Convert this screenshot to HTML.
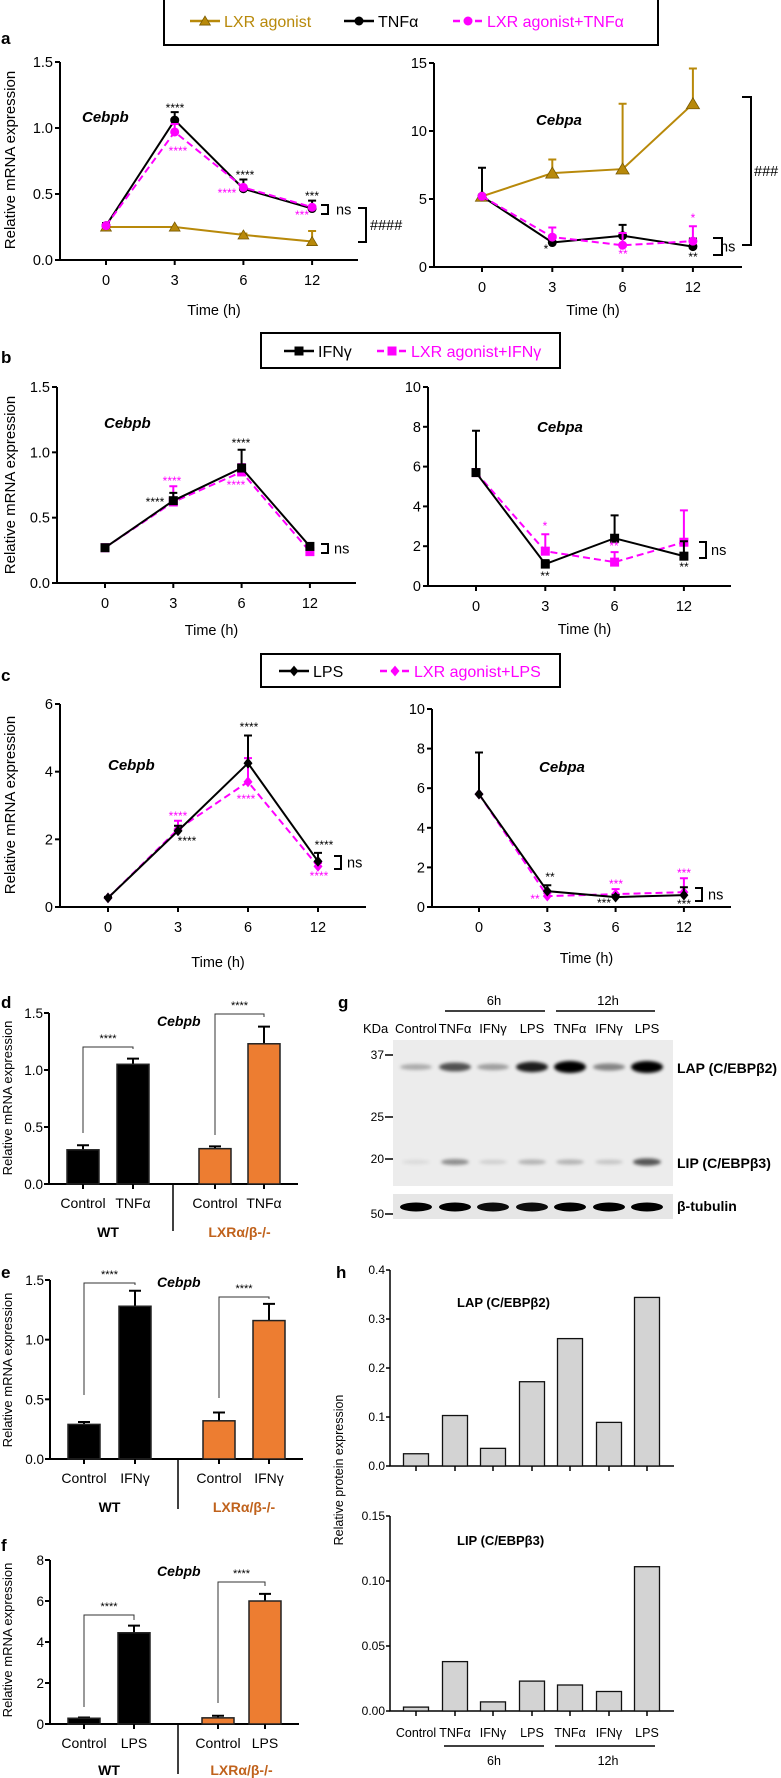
<!DOCTYPE html>
<html><head><meta charset="utf-8"><style>
html,body{margin:0;padding:0;background:#fff;}
svg{display:block;font-family:"Liberation Sans",Arial,sans-serif;}
</style></head><body>
<svg id="fig" width="781" height="1778" viewBox="0 0 781 1778" xmlns="http://www.w3.org/2000/svg">
<defs><filter id="blur" x="-30%" y="-100%" width="160%" height="300%"><feGaussianBlur stdDeviation="1.6"/></filter></defs>
</svg>
<script>
// ---------- DATA ----------
const timeLabels=['0','3','6','12'];
const aLeftLXR=[0.25,0.25,0.19,0.14];
const aLeftLXRErr=[0.25,0.25,0.20,0.22];
const aLeftTNF=[0.26,1.06,0.54,0.39];
const aLeftTNFErr=[0.28,1.12,0.61,0.45];
const aLeftCombo=[0.26,0.97,0.55,0.40];
const aLeftComboErr=[0.26,1.03,0.55,0.40];
const aRightLXR=[5.2,6.9,7.2,12.0];
const aRightLXRErr=[5.2,7.9,12.0,14.6];
const aRightTNF=[5.2,1.8,2.3,1.5];
const aRightTNFErr=[7.3,2.3,3.1,2.1];
const aRightCombo=[5.2,2.2,1.6,1.9];
const aRightComboErr=[5.2,2.9,2.5,3.0];
const bLeftIFN=[0.27,0.63,0.88,0.28];
const bLeftIFNErr=[0.29,0.69,1.02,0.30];
const bLeftCombo=[0.27,0.62,0.85,0.24];
const bLeftComboErr=[0.27,0.74,0.91,0.24];
const bRightIFN=[5.7,1.1,2.4,1.5];
const bRightIFNErr=[7.8,1.3,3.55,2.25];
const bRightCombo=[5.7,1.75,1.2,2.2];
const bRightComboErr=[5.7,2.6,1.7,3.8];
const cLeftLPS=[0.27,2.25,4.25,1.35];
const cLeftLPSErr=[0.30,2.4,5.07,1.6];
const cLeftCombo=[0.27,2.3,3.7,1.2];
const cLeftComboErr=[0.27,2.55,4.4,1.3];
const cRightLPS=[5.7,0.8,0.5,0.6];
const cRightLPSErr=[7.8,1.1,0.6,1.0];
const cRightCombo=[5.7,0.55,0.65,0.75];
const cRightComboErr=[5.7,0.7,0.9,1.45];
const dCats=['Control','TNFα','Control','TNFα'];
const dVals=[0.30,1.05,0.31,1.23];
const dErr=[0.34,1.10,0.33,1.38];
const eCats=['Control','IFNγ','Control','IFNγ'];
const eVals=[0.29,1.28,0.32,1.16];
const eErr=[0.31,1.41,0.39,1.30];
const fCats=['Control','LPS','Control','LPS'];
const fVals=[0.28,4.45,0.30,6.0];
const fErr=[0.32,4.8,0.40,6.35];
const hCats=['Control','TNFα','IFNγ','LPS','TNFα','IFNγ','LPS'];
const lapVals=[0.025,0.103,0.036,0.172,0.260,0.089,0.344];
const lipVals=[0.003,0.038,0.007,0.023,0.020,0.015,0.111];
const blotLAP=[0.25,0.6,0.3,0.8,1.0,0.4,1.0];
const blotLIP=[0.1,0.5,0.15,0.3,0.3,0.2,0.8];
const blotTub=[1,1,0.95,0.95,1,1,1];
const hLaneX=[416,455,493,532,570,609,647];

// ---------- HELPERS ----------
const NS='http://www.w3.org/2000/svg';
const svg=document.getElementById('fig');
function mk(tag,attrs,parent){const e=document.createElementNS(NS,tag);for(const k in attrs)e.setAttribute(k,attrs[k]);(parent||svg).appendChild(e);return e;}
function txt(x,y,s,attrs,parent){const t=mk('text',Object.assign({x:x,y:y},attrs||{}),parent);t.textContent=s;return t;}
const GOLD='#b8890a', MAG='#ff00ff', ORANGE='#ed7d31', BROWN='#c0621c';

function marker(g,type,x,y,color,s){
  let m;
  if(type==='circle') m=mk('circle',{cx:x,cy:y,r:s*0.5,fill:color},g);
  else if(type==='square') m=mk('rect',{x:x-s/2,y:y-s/2,width:s,height:s,fill:color},g);
  else if(type==='triangle') m=mk('path',{d:`M${x} ${y-s*0.55} L${x+s*0.6} ${y+s*0.45} L${x-s*0.6} ${y+s*0.45} Z`,fill:color,stroke:'#7a5a00','stroke-width':0.8},g);
  else m=mk('path',{d:`M${x} ${y-s*0.6} L${x+s*0.5} ${y} L${x} ${y+s*0.6} L${x-s*0.5} ${y} Z`,fill:color},g);
  
  
}

function lineChart(name,c,series,yTickLabels){
  const g=mk('g',{});
  
  
  const sy=v=>c.y0-v/c.ymax*(c.y0-c.ytop);
  const sx=i=>c.x0+i*c.step;
  const ax=mk('path',{d:`M${c.ax} ${c.ytop} V${c.y0} H${c.xend}`,fill:'none',stroke:'#000','stroke-width':2},g);
  
  
  c.yticks.forEach((v,k)=>{
    const tk=mk('line',{x1:c.ax-5,x2:c.ax,y1:sy(v),y2:sy(v),stroke:'#000','stroke-width':2},g);
    
    
    const tl=txt(c.ax-7,sy(v)+5,yTickLabels[k],{'font-size':14.5,'text-anchor':'end'},g);
    
    
  });
  timeLabels.forEach((s,i)=>{
    const tk=mk('line',{x1:sx(i),x2:sx(i),y1:c.y0,y2:c.y0+5,stroke:'#000','stroke-width':2},g);
    
    
    const tl=txt(sx(i),c.y0+25,s,{'font-size':14.5,'text-anchor':'middle'},g);
    
    
  });
  const xt=txt((c.ax+c.xend)/2+5,c.y0+c.titleDy,'Time (h)',{'font-size':14.5,'text-anchor':'middle'},g);
  
  
  const gt=txt(c.geneX,c.geneY,c.gene,{'font-size':15,'font-weight':'bold','font-style':'italic'},g);
  
  
  series.forEach(s=>{
    s.vals.forEach((v,i)=>{
      if(s.err[i]>v+0.0001){
        const eb=mk('path',{d:`M${sx(i)} ${sy(v)} V${sy(s.err[i])} M${sx(i)-4} ${sy(s.err[i])} H${sx(i)+4}`,stroke:s.color,'stroke-width':2,fill:'none'},g);
        
        
      }
    });
    const d=s.vals.map((v,i)=>(i?'L':'M')+sx(i)+' '+sy(v)).join(' ');
    const p=mk('path',{d:d,fill:'none',stroke:s.color,'stroke-width':2,'stroke-dasharray':s.dash?'7 4':'none'},g);
    
    
    s.vals.forEach((v,i)=>marker(g,s.marker,sx(i),sy(v),s.color,s.size||9));
  });
  return g;
}

function bracket(x,y1,y2,w,label,lx){
  const b=mk('path',{d:`M${x} ${y1} H${x+w} V${y2} H${x}`,fill:'none',stroke:'#000','stroke-width':2});
  
  
  const t=txt(lx,(y1+y2)/2+5,label,{'font-size':14.5});
  
  
}
function stars(list){
  list.forEach(a=>{
    const t=txt(a[0],a[1],a[2],{'font-size':12,'text-anchor':'middle',fill:a[3]||'#000'});
    
    
  });
}
function yTitle(x,y,s,size){
  const t=txt(0,0,s,{'font-size':size,'text-anchor':'middle',transform:`translate(${x} ${y}) rotate(-90)`});
  
  
}
function panelLetter(x,y,s){
  const t=txt(x,y,s,{'font-size':17,'font-weight':'bold'});
  
  
}
function legendBox(x1,y1,x2,y2,items,cy){
  const r=mk('rect',{x:x1,y:y1,width:x2-x1,height:y2-y1,fill:'#fff',stroke:'#000','stroke-width':2});
  
  
  items.forEach(it=>{
    const g=mk('g',{});
    
    
    mk('line',{x1:it.x,x2:it.x+30,y1:cy,y2:cy,stroke:it.color,'stroke-width':2.5,'stroke-dasharray':it.dash?'7 4':'none'},g);
    marker(g,it.marker,it.x+15,cy,it.color,9);
    txt(it.x+34,cy+6,it.label,{'font-size':16,fill:it.color},g);
  });
}

// ---------- PANEL A ----------
panelLetter(1,44,'a');
legendBox(164,-2,658,45,[
  {x:190,color:GOLD,marker:'triangle',label:'LXR agonist'},
  {x:344,color:'#000',marker:'circle',label:'TNFα'},
  {x:453,color:MAG,marker:'circle',dash:true,label:'LXR agonist+TNFα'}],21);
yTitle(15,160,'Relative mRNA expression',15);
lineChart('chart-a-cebpb',{ax:60,y0:260,ytop:62,ymax:1.5,yticks:[0,0.5,1,1.5],x0:106,step:68.7,xend:358,titleDy:55,gene:'Cebpb',geneX:82,geneY:122},[
  {name:'lxr-agonist',vals:aLeftLXR,err:aLeftLXRErr,color:GOLD,marker:'triangle'},
  {name:'tnfa',vals:aLeftTNF,err:aLeftTNFErr,color:'#000',marker:'circle'},
  {name:'lxr-tnfa',vals:aLeftCombo,err:aLeftComboErr,color:MAG,marker:'circle',dash:true}],['0.0','0.5','1.0','1.5']);
stars([[175,112,'****'],[178,155,'****',MAG],[245,179,'****'],[227,197,'****',MAG],[312,200,'***'],[302,219,'***',MAG]]);
bracket(321,205,214,7,'ns',336);
bracket(358,208,242,8,'####',370);
lineChart('chart-a-cebpa',{ax:434,y0:267,ytop:63,ymax:15,yticks:[0,5,10,15],x0:482,step:70.3,xend:742,titleDy:48,gene:'Cebpa',geneX:536,geneY:125},[
  {name:'lxr-agonist',vals:aRightLXR,err:aRightLXRErr,color:GOLD,marker:'triangle',size:11},
  {name:'tnfa',vals:aRightTNF,err:aRightTNFErr,color:'#000',marker:'circle'},
  {name:'lxr-tnfa',vals:aRightCombo,err:aRightComboErr,color:MAG,marker:'circle',dash:true}],['0','5','10','15']);
stars([[546,253,'*'],[623,258,'**',MAG],[693,261,'**'],[693,222,'*',MAG]]);
bracket(713,238,255,9,'ns',720);
bracket(742,97,245,9,'###',754);

// ---------- PANEL B ----------
panelLetter(1,363,'b');
legendBox(261,333,560,368,[
  {x:284,color:'#000',marker:'square',label:'IFNγ'},
  {x:377,color:MAG,marker:'square',dash:true,label:'LXR agonist+IFNγ'}],351);
yTitle(15,485,'Relative mRNA expression',15);
lineChart('chart-b-cebpb',{ax:57,y0:583,ytop:387,ymax:1.5,yticks:[0,0.5,1,1.5],x0:105,step:68.3,xend:356,titleDy:52,gene:'Cebpb',geneX:104,geneY:428},[
  {name:'lxr-ifng',vals:bLeftCombo,err:bLeftComboErr,color:MAG,marker:'square',dash:true},
  {name:'ifng',vals:bLeftIFN,err:bLeftIFNErr,color:'#000',marker:'square'}],['0.0','0.5','1.0','1.5']);
stars([[241,447,'****'],[172,485,'****',MAG],[155,506,'****'],[236,489,'****',MAG]]);
bracket(321,544,553,7,'ns',334);
lineChart('chart-b-cebpa',{ax:428,y0:586,ytop:387,ymax:10,yticks:[0,2,4,6,8,10],x0:476,step:69.3,xend:731,titleDy:48,gene:'Cebpa',geneX:537,geneY:432},[
  {name:'lxr-ifng',vals:bRightCombo,err:bRightComboErr,color:MAG,marker:'square',dash:true},
  {name:'ifng',vals:bRightIFN,err:bRightIFNErr,color:'#000',marker:'square'}],['0','2','4','6','8','10']);
stars([[545,530,'*',MAG],[545,580,'**'],[614,550,'**',MAG],[684,571,'**']]);
bracket(699,542,558,7,'ns',711);

// ---------- PANEL C ----------
panelLetter(1,681,'c');
legendBox(261,654,560,687,[
  {x:279,color:'#000',marker:'diamond',label:'LPS'},
  {x:380,color:MAG,marker:'diamond',dash:true,label:'LXR agonist+LPS'}],671);
yTitle(15,805,'Relative mRNA expression',15);
lineChart('chart-c-cebpb',{ax:60,y0:907,ytop:704,ymax:6,yticks:[0,2,4,6],x0:108,step:70,xend:366,titleDy:60,gene:'Cebpb',geneX:108,geneY:770},[
  {name:'lxr-lps',vals:cLeftCombo,err:cLeftComboErr,color:MAG,marker:'diamond',dash:true},
  {name:'lps',vals:cLeftLPS,err:cLeftLPSErr,color:'#000',marker:'diamond'}],['0','2','4','6']);
stars([[178,820,'****',MAG],[187,845,'****'],[249,731,'****'],[246,803,'****',MAG],[324,849,'****'],[319,880,'****',MAG]]);
bracket(334,856,869,7,'ns',347);
lineChart('chart-c-cebpa',{ax:432,y0:907,ytop:709,ymax:10,yticks:[0,2,4,6,8,10],x0:479,step:68.3,xend:731,titleDy:56,gene:'Cebpa',geneX:539,geneY:772},[
  {name:'lxr-lps',vals:cRightCombo,err:cRightComboErr,color:MAG,marker:'diamond',dash:true},
  {name:'lps',vals:cRightLPS,err:cRightLPSErr,color:'#000',marker:'diamond'}],['0','2','4','6','8','10']);
stars([[550,881,'**'],[535,903,'**',MAG],[616,888,'***',MAG],[604,907,'***'],[684,877,'***',MAG],[684,908,'***']]);
bracket(695,888,901,7,'ns',708);

// ---------- PANELS D/E/F ----------
function barChart(name,c,cats,vals,err,tickLabels){
  const g=mk('g',{});
  
  
  const sy=v=>c.y0-v/c.ymax*(c.y0-c.ytop);
  const ax=mk('path',{d:`M${c.ax} ${c.ytop} V${c.y0} H${c.xend}`,fill:'none',stroke:'#000','stroke-width':2},g);
  
  
  c.yticks.forEach((v,k)=>{
    const tk=mk('line',{x1:c.ax-5,x2:c.ax,y1:sy(v),y2:sy(v),stroke:'#000','stroke-width':2},g);
    
    
    const tl=txt(c.ax-6,sy(v)+5,tickLabels[k],{'font-size':13.5,'text-anchor':'end'},g);
    
    
  });
  vals.forEach((v,i)=>{
    const x=c.xs[i];
    const col=i<2?'#000':ORANGE;
    const eb=mk('path',{d:`M${x} ${sy(v)} V${sy(err[i])} M${x-6} ${sy(err[i])} H${x+6}`,stroke:'#000','stroke-width':2,fill:'none'},g);
    
    
    const b=mk('rect',{x:x-16,y:sy(v),width:32,height:c.y0-sy(v),fill:col,stroke:'#222','stroke-width':1.5},g);
    
    
    const tk=mk('line',{x1:x,x2:x,y1:c.y0,y2:c.y0+5,stroke:'#000','stroke-width':2},g);
    
    
    const tl=txt(x,c.y0+24,cats[i],{'font-size':14,'text-anchor':'middle'},g);
    
    
  });
  const sep=mk('line',{x1:c.sep,x2:c.sep,y1:c.y0,y2:c.y0+c.sepLen,stroke:'#000','stroke-width':1.5},g);
  
  
  const wt=txt((c.xs[0]+c.xs[1])/2,c.y0+c.grpDy,'WT',{'font-size':14,'font-weight':'bold','text-anchor':'middle'},g);
  
  
  const ko=txt((c.xs[2]+c.xs[3])/2,c.y0+c.grpDy,'LXRα/β-/-',{'font-size':14,'font-weight':'bold','text-anchor':'middle',fill:BROWN},g);
  
  
  const gt=txt(157,c.geneY,'Cebpb',{'font-size':14,'font-weight':'bold','font-style':'italic'},g);
  
  
  c.br.forEach(b=>{
    const p=mk('path',{d:`M${c.xs[b[0]]} ${b[2]} V${b[3]} H${c.xs[b[1]]} V${b[3]+b[4]}`,fill:'none',stroke:'#333','stroke-width':1},g);
    
    
    const t=txt((c.xs[b[0]]+c.xs[b[1]])/2,b[3]-5,'****',{'font-size':11,'text-anchor':'middle'},g);
    
    
  });
}
panelLetter(1,1008,'d');
yTitle(12,1098,'Relative mRNA expression',13);
barChart('chart-d',{ax:49,y0:1184,ytop:1013,ymax:1.5,yticks:[0,0.5,1,1.5],xs:[83,133,215,264],xend:298,sep:173,sepLen:47,grpDy:53,geneY:1026,
  br:[[0,1,1133,1047,2],[2,3,1135,1014,3]]},dCats,dVals,dErr,['0.0','0.5','1.0','1.5']);
panelLetter(1,1278,'e');
yTitle(12,1370,'Relative mRNA expression',13);
barChart('chart-e',{ax:50,y0:1459,ytop:1280,ymax:1.5,yticks:[0,0.5,1,1.5],xs:[84,135,219,269],xend:303,sep:178,sepLen:50,grpDy:53,geneY:1287,
  br:[[0,1,1395,1283,2],[2,3,1398,1297,2]]},eCats,eVals,eErr,['0.0','0.5','1.0','1.5']);
panelLetter(1,1551,'f');
yTitle(12,1640,'Relative mRNA expression',13);
barChart('chart-f',{ax:50,y0:1724,ytop:1560,ymax:8,yticks:[0,2,4,6,8],xs:[84,134,218,265],xend:299,sep:178,sepLen:50,grpDy:51,geneY:1576,
  br:[[0,1,1707,1615,5],[2,3,1703,1582,4]]},fCats,fVals,fErr,['0','2','4','6','8']);

// ---------- PANEL G (blot) ----------
panelLetter(338,1008,'g');
(function(){
  const g=mk('g',{});
  
  
  const t6=txt(494,1005,'6h',{'font-size':13,'text-anchor':'middle'},g);
  
  
  const t12=txt(608,1005,'12h',{'font-size':13,'text-anchor':'middle'},g);
  
  
  mk('line',{x1:445,x2:545,y1:1011,y2:1011,stroke:'#000','stroke-width':1.5},g);
  mk('line',{x1:556,x2:655,y1:1011,y2:1011,stroke:'#000','stroke-width':1.5},g);
  const kd=txt(363,1033,'KDa',{'font-size':13},g);
  
  
  hCats.forEach((s,i)=>{
    const t=txt(hLaneX[i],1033,s,{'font-size':13,'text-anchor':'middle'},g);
    
    
  });
  const bg=mk('rect',{x:393,y:1040,width:280,height:146,fill:'#ececec'},g);
  
  
  const bg2=mk('rect',{x:393,y:1194,width:280,height:25,fill:'#e6e6e6'},g);
  
  
  hLaneX.forEach((x,i)=>{
    const b1=mk('ellipse',{cx:x,cy:1067,rx:16,ry:2+4*blotLAP[i],fill:'#000','fill-opacity':Math.min(1,blotLAP[i]*1.1),filter:'url(#blur)'},g);
    
    
    const b2=mk('ellipse',{cx:x,cy:1162,rx:14,ry:2+2*blotLIP[i],fill:'#000','fill-opacity':blotLIP[i]*0.8,filter:'url(#blur)'},g);
    
    
    const b3=mk('ellipse',{cx:x,cy:1207,rx:16,ry:4.5,fill:'#000','fill-opacity':blotTub[i]},g);
    
    
  });
  [['37',1055],['25',1117],['20',1159],['50',1214]].forEach(m=>{
    const t=txt(384,m[1]+4,m[0],{'font-size':12,'text-anchor':'end'},g);
    
    
    mk('line',{x1:385,x2:393,y1:m[1],y2:m[1],stroke:'#000','stroke-width':1.5},g);
  });
  [['LAP (C/EBPβ2)',1073],['LIP (C/EBPβ3)',1168],['β-tubulin',1211]].forEach(l=>{
    const t=txt(677,l[1],l[0],{'font-size':14,'font-weight':'bold'},g);
    
    
  });
})();

// ---------- PANEL H ----------
panelLetter(336,1278,'h');
yTitle(343,1470,'Relative protein expression',12.5);
function hChart(name,c,vals,tickLabels,title,titleY,showX){
  const g=mk('g',{});
  
  
  const sy=v=>c.y0-v/c.ymax*(c.y0-c.ytop);
  const ax=mk('path',{d:`M390 ${c.ytop} V${c.y0} H674`,fill:'none',stroke:'#000','stroke-width':1.5},g);
  
  
  c.yticks.forEach((v,k)=>{
    mk('line',{x1:386,x2:390,y1:sy(v),y2:sy(v),stroke:'#000','stroke-width':1.5},g);
    const tl=txt(385,sy(v)+4,tickLabels[k],{'font-size':12,'text-anchor':'end'},g);
    
    
  });
  vals.forEach((v,i)=>{
    const x=hLaneX[i];
    const b=mk('rect',{x:x-12.5,y:sy(v),width:25,height:c.y0-sy(v),fill:'#d3d3d3',stroke:'#111','stroke-width':1.3},g);
    
    
    mk('line',{x1:x,x2:x,y1:c.y0,y2:c.y0+5,stroke:'#000','stroke-width':1.5},g);
    if(showX){
      const tl=txt(x,c.y0+26,hCats[i],{'font-size':12.5,'text-anchor':'middle'},g);
      
      
    }
  });
  const t=txt(457,titleY,title,{'font-size':13,'font-weight':'bold'},g);
  
  
}
hChart('chart-h-lap',{y0:1466,ytop:1270,ymax:0.4,yticks:[0,0.1,0.2,0.3,0.4]},lapVals,['0.0','0.1','0.2','0.3','0.4'],'LAP (C/EBPβ2)',1307,false);
hChart('chart-h-lip',{y0:1711,ytop:1516,ymax:0.15,yticks:[0,0.05,0.1,0.15]},lipVals,['0.00','0.05','0.10','0.15'],'LIP (C/EBPβ3)',1545,true);
mk('line',{x1:444,x2:544,y1:1746,y2:1746,stroke:'#000','stroke-width':1.5});
mk('line',{x1:555,x2:655,y1:1746,y2:1746,stroke:'#000','stroke-width':1.5});
const h6=txt(494,1765,'6h',{'font-size':12.5,'text-anchor':'middle'});


const h12=txt(608,1765,'12h',{'font-size':12.5,'text-anchor':'middle'});


</script>
</body></html>
